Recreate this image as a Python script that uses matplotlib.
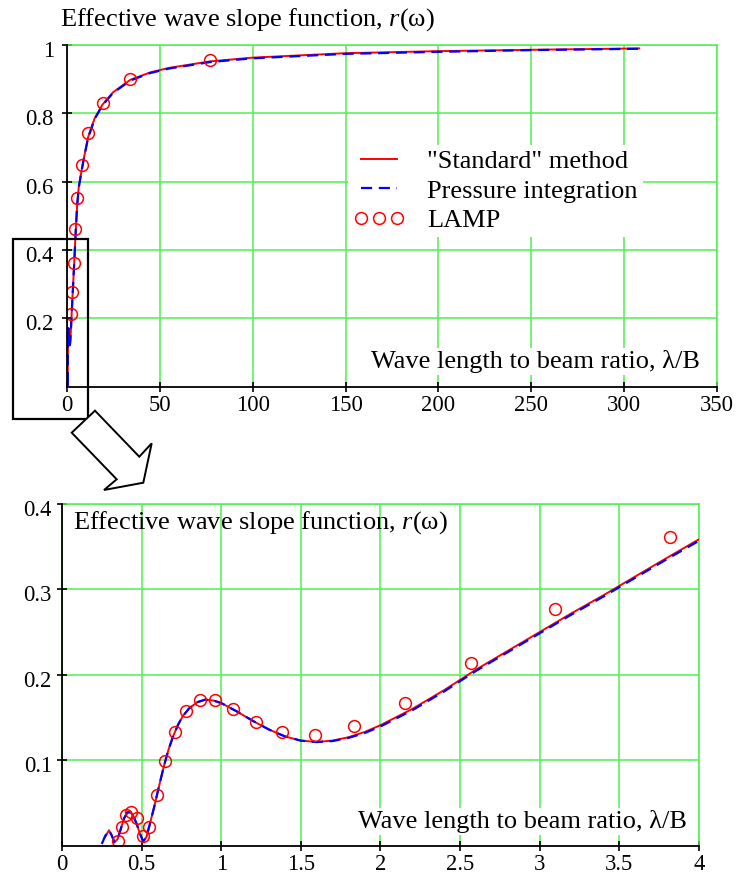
import matplotlib
matplotlib.use('Agg')
import matplotlib.pyplot as plt
import matplotlib.transforms as mtransforms
from matplotlib.patches import Rectangle, Polygon

plt.rcParams['font.family'] = ['Liberation Serif', 'DejaVu Serif']
plt.rcParams['mathtext.fontset'] = 'custom'
plt.rcParams['mathtext.rm'] = 'Liberation Serif'
plt.rcParams['mathtext.it'] = 'Liberation Serif:italic'

# ---------------- data ----------------
std_x = [0.27, 0.295, 0.31, 0.33, 0.35, 0.37, 0.39, 0.41, 0.43, 0.45, 0.47, 0.49, 0.51, 0.53,
         0.55, 0.58, 0.61, 0.64, 0.67, 0.70, 0.73, 0.76, 0.80, 0.85, 0.90, 0.95, 1.00, 1.10,
         1.20, 1.30, 1.40, 1.50, 1.60, 1.70, 1.80, 1.90, 2.00, 2.20, 2.40, 2.60, 2.80, 3.00,
         3.20, 3.40, 3.60, 3.81, 4.2, 4.7, 5.6, 6.5, 8.4, 10, 11.5, 15, 19.3, 25, 34.2, 45,
         55, 77, 100, 150, 200, 250, 308]
std_r = [0.010, 0.018, 0.013, 0.004, 0.008, 0.020, 0.032, 0.039, 0.039, 0.034, 0.025, 0.014,
         0.005, 0.010, 0.024, 0.046, 0.070, 0.093, 0.113, 0.129, 0.142, 0.152, 0.161, 0.168,
         0.171, 0.170, 0.167, 0.157, 0.146, 0.136, 0.128, 0.123, 0.1215, 0.123, 0.127, 0.133,
         0.141, 0.160, 0.182, 0.206, 0.228, 0.250, 0.272, 0.293, 0.315, 0.338, 0.38, 0.44,
         0.53, 0.585, 0.645, 0.69, 0.73, 0.785, 0.826, 0.862, 0.898, 0.920, 0.933, 0.952,
         0.963, 0.976, 0.982, 0.986, 0.990]

pres_x = [0.25, 0.27, 0.295, 0.31, 0.33, 0.35, 0.37, 0.39, 0.41, 0.43, 0.45, 0.47, 0.49, 0.51,
          0.53, 0.55, 0.58, 0.61, 0.64, 0.67, 0.70, 0.73, 0.76, 0.80, 0.85, 0.90, 0.95, 1.00,
          1.10, 1.20, 1.30, 1.40, 1.50, 1.60, 1.70, 1.80, 1.90, 2.00, 2.20, 2.40, 2.60, 2.80,
          3.00, 3.20, 3.40, 3.60, 3.81, 4.2, 4.7, 5.6, 6.5, 8.4, 10, 11.5, 15, 19.3, 25, 34.2,
          45, 55, 77, 100, 150, 200, 250, 308]
pres_r = [0.002, 0.011, 0.018, 0.013, 0.004, 0.008, 0.020, 0.032, 0.039, 0.039, 0.034, 0.025,
          0.014, 0.005, 0.010, 0.024, 0.046, 0.070, 0.093, 0.113, 0.129, 0.142, 0.152, 0.161,
          0.168, 0.171, 0.170, 0.167, 0.157, 0.146, 0.136, 0.128, 0.123, 0.1213, 0.1225,
          0.1262, 0.1318, 0.1395, 0.1585, 0.1805, 0.2045, 0.2265, 0.2485, 0.2705, 0.2915,
          0.3135, 0.3365, 0.378, 0.438, 0.528, 0.583, 0.643, 0.688, 0.728, 0.783, 0.824,
          0.860, 0.896, 0.918, 0.931, 0.950, 0.961, 0.974, 0.980, 0.985, 0.989]

lamp_x = [0.349, 0.376, 0.403, 0.431, 0.469, 0.511, 0.544, 0.595, 0.647, 0.712, 0.777, 0.866,
          0.959, 1.075, 1.219, 1.379, 1.587, 1.837, 2.154, 2.568, 3.097, 3.820]
lamp_r = [0.0055, 0.0215, 0.0356, 0.0398, 0.032, 0.0114, 0.0215, 0.059, 0.099, 0.1335, 0.158,
          0.170, 0.170, 0.160, 0.145, 0.1335, 0.130, 0.1405, 0.1667, 0.2136, 0.277, 0.3618]

lamp_long_x = [4.7, 5.6, 8.4, 11.5, 19.3, 34.2, 77.0]
lamp_long_r = [0.462, 0.553, 0.648, 0.743, 0.829, 0.900, 0.955]

title_text = "Effective wave slope function, $r$(\u03c9)"
xlabel_text = "Wave length to beam ratio, \u03bb/B"
legend_labels = ['"Standard" method', 'Pressure integration', 'LAMP']

top_xticks = [0, 50, 100, 150, 200, 250, 300, 350]
top_yticks = [0.2, 0.4, 0.6, 0.8, 1]
bot_xticks = [0, 0.5, 1, 1.5, 2, 2.5, 3, 3.5, 4]
bot_yticks = [0.1, 0.2, 0.3, 0.4]

# ---------------- layout ----------------
W, H = 746, 876
fig = plt.figure(figsize=(W / 100, H / 100), dpi=100)
FS = 19        # annotation / legend text
FT = 16.3      # tick labels
GREEN = '#50f050'


def px_axes(l, t, r, b):
    return fig.add_axes([l / W, 1 - b / H, (r - l) / W, (b - t) / H])


def style(ax, xt, yt, xlim, ylim, ypad):
    ax.set_xlim(xlim)
    ax.set_ylim(ylim)
    ax.set_xticks(xt)
    ax.set_yticks(yt)
    ax.set_xticklabels([f'{v:g}' for v in xt])
    ax.set_yticklabels([f'{v:g}' for v in yt])
    ax.grid(True, color=GREEN, lw=1.1)
    ax.set_axisbelow(True)
    for s in ['top', 'right']:
        ax.spines[s].set_color(GREEN)
        ax.spines[s].set_linewidth(1.1)
    for s in ['left', 'bottom']:
        ax.spines[s].set_color('black')
        ax.spines[s].set_linewidth(1.3)
        ax.spines[s].set_zorder(6)
    ax.tick_params(direction='inout', length=6.5, width=1.2, color='black',
                   labelsize=FT, top=False, right=False)
    ax.tick_params(axis='x', pad=2.5)
    ax.tick_params(axis='y', pad=ypad)
    off = mtransforms.ScaledTranslation(0, -0.04, fig.dpi_scale_trans)
    for lab in ax.get_yticklabels():
        lab.set_transform(lab.get_transform() + off)


def draw(ax, lx, lr):
    h1, = ax.plot(std_x, std_r, color='red', lw=1.4, zorder=3)
    h2, = ax.plot(pres_x, pres_r, color='blue', lw=1.6, dashes=(5, 3), zorder=4)
    h3, = ax.plot(lx, lr, ls='none', marker='o', ms=8.5, mfc='none', mec='red',
                  mew=1.1, zorder=5)
    return [h1, h2, h3]


# top panel
ax1 = px_axes(66.7, 45, 717.3, 386.7)
style(ax1, top_xticks, top_yticks, (0, 350), (0, 1), 6)
top_lx = [v for v in lamp_x if v > 2.4] + lamp_long_x
top_lr = [r for v, r in zip(lamp_x, lamp_r) if v > 2.4] + lamp_long_r
handles = draw(ax1, top_lx, top_lr)
leg = ax1.legend(handles, legend_labels, loc='upper left', bbox_to_anchor=(0.4325, 0.7083),
                 borderaxespad=0, borderpad=0.2, frameon=True, fancybox=False,
                 facecolor='white', edgecolor='none', framealpha=1, fontsize=FS,
                 handlelength=1.95, handletextpad=0.83, labelspacing=0.22, numpoints=3)
leg.set_zorder(7)

# bottom panel
ax2 = px_axes(62, 504, 698.7, 845.7)
style(ax2, bot_xticks, bot_yticks, (0, 4), (0, 0.4), 4)
draw(ax2, lamp_x, lamp_r)

# texts
fig.text(60 / W, 1 - 20 / H, title_text, fontsize=FS, ha='left', va='center')
fig.text(72.7 / W, 1 - 523 / H, title_text, fontsize=FS, ha='left', va='center', zorder=8)
for xr, yc in [(700, 361.7), (686.7, 821.7)]:
    fig.text(xr / W, 1 - yc / H, xlabel_text, fontsize=FS, ha='right', va='center', zorder=8,
             bbox=dict(facecolor='white', edgecolor='none', pad=1.5))

# zoom rectangle and block arrow
rect = Rectangle((12.7 / W, 1 - 418.7 / H), 75 / W, 180 / H, transform=fig.transFigure,
                 fill=False, ec='black', lw=1.6, zorder=9)
fig.add_artist(rect)
arrow_px = [(95, 410.7), (139.3, 456.7), (151.7, 443.3), (143.3, 482.7), (104, 490),
            (116.7, 479.3), (71.7, 432.7)]
arrow = Polygon([(x / W, 1 - y / H) for x, y in arrow_px], closed=True,
                transform=fig.transFigure, fc='white', ec='black', lw=1.4, zorder=9)
fig.add_artist(arrow)

fig.savefig('out.png', dpi=100)
